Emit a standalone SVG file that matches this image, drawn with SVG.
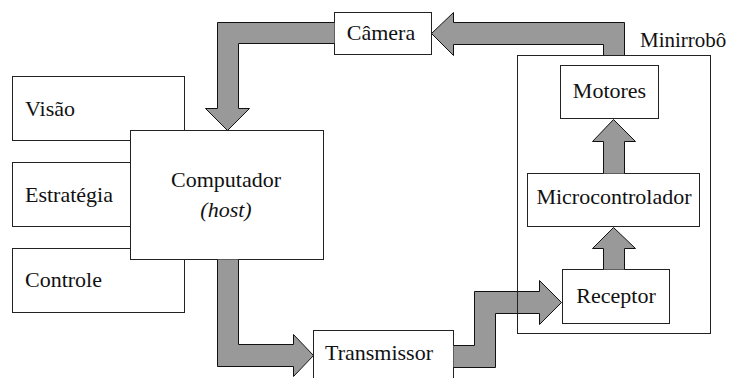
<svg xmlns="http://www.w3.org/2000/svg" width="733" height="378" viewBox="0 0 733 378">
<rect width="733" height="378" fill="#fff"/>
<g id="visao"><rect fill="#fff" stroke="#222" x="12.5" y="76.5" width="172" height="64"/><text x="25" y="116" font-family="Liberation Serif, Times New Roman, serif" font-size="22" fill="#111">Visão</text></g>
<g id="estrategia"><rect fill="#fff" stroke="#222" x="12.5" y="162.5" width="172" height="64"/><text x="25" y="202" font-family="Liberation Serif, Times New Roman, serif" font-size="22" fill="#111">Estratégia</text></g>
<g id="controle"><rect fill="#fff" stroke="#222" x="12.5" y="248.5" width="172" height="64"/><text x="25" y="287" font-family="Liberation Serif, Times New Roman, serif" font-size="22" fill="#111">Controle</text></g>
<g id="computador"><rect fill="#fff" stroke="#222" x="130.5" y="130.5" width="193" height="129"/><text x="226" y="187" font-family="Liberation Serif, Times New Roman, serif" font-size="22" fill="#111" text-anchor="middle">Computador</text><text x="226" y="217" font-family="Liberation Serif, Times New Roman, serif" font-size="22" fill="#111" text-anchor="middle" font-style="italic">(host)</text></g>
<g id="camera"><rect fill="#fff" stroke="#222" x="334.5" y="12.5" width="97" height="42"/><text x="381" y="40" font-family="Liberation Serif, Times New Roman, serif" font-size="22" fill="#111" text-anchor="middle">Câmera</text></g>
<g id="transmissor"><rect fill="#fff" stroke="#222" x="313.5" y="330.5" width="140" height="60"/><text x="379" y="360" font-family="Liberation Serif, Times New Roman, serif" font-size="22" fill="#111" text-anchor="middle">Transmissor</text></g>
<g id="motores"><rect fill="#fff" stroke="#222" x="560.5" y="65.5" width="98" height="53"/><text x="609.5" y="98" font-family="Liberation Serif, Times New Roman, serif" font-size="22" fill="#111" text-anchor="middle">Motores</text></g>
<g id="microcontrolador"><rect fill="#fff" stroke="#222" x="527.5" y="173.5" width="172" height="53"/><text x="614" y="204" font-family="Liberation Serif, Times New Roman, serif" font-size="22" fill="#111" text-anchor="middle">Microcontrolador</text></g>
<g id="receptor"><rect fill="#fff" stroke="#222" x="562.5" y="269.5" width="107" height="54"/><text x="616" y="303" font-family="Liberation Serif, Times New Roman, serif" font-size="22" fill="#111" text-anchor="middle">Receptor</text></g>
<g id="connectors" fill="#999" stroke="#111">
<path d="M334.5,22.5 L217.5,22.5 L217.5,108.5 L205.5,108.5 L227.5,130.5 L249.5,108.5 L238.5,108.5 L238.5,43.5 L334.5,43.5"/>
<path d="M624.5,55.5 L624.5,22.5 L453.5,22.5 L453.5,12.5 L431.5,33.5 L453.5,55.5 L453.5,44.5 L603.5,44.5 L603.5,55.5 Z"/>
<path d="M217.5,259.5 L217.5,366.5 L293.5,366.5 L293.5,376.5 L313.5,355.5 L293.5,334.5 L293.5,344.5 L238.5,344.5 L238.5,259.5"/>
<path d="M453.5,345.5 L474.5,345.5 L474.5,291.5 L539.5,291.5 L539.5,280.5 L561.5,302.5 L539.5,324.5 L539.5,313.5 L495.5,313.5 L495.5,367.5 L453.5,367.5"/>
<path d="M603.5,173.5 L603.5,141.5 L592.5,141.5 L613.5,119.5 L635.5,141.5 L624.5,141.5 L624.5,173.5"/>
<path d="M603.5,269.5 L603.5,248.5 L592.5,248.5 L613.5,227.5 L635.5,248.5 L624.5,248.5 L624.5,269.5"/>
</g>
<g id="minirrobo"><rect fill="none" stroke="#222" x="517.5" y="55.5" width="193" height="278"/><text x="640" y="47" font-family="Liberation Serif, Times New Roman, serif" font-size="21" fill="#111">Minirrobô</text></g>
</svg>
